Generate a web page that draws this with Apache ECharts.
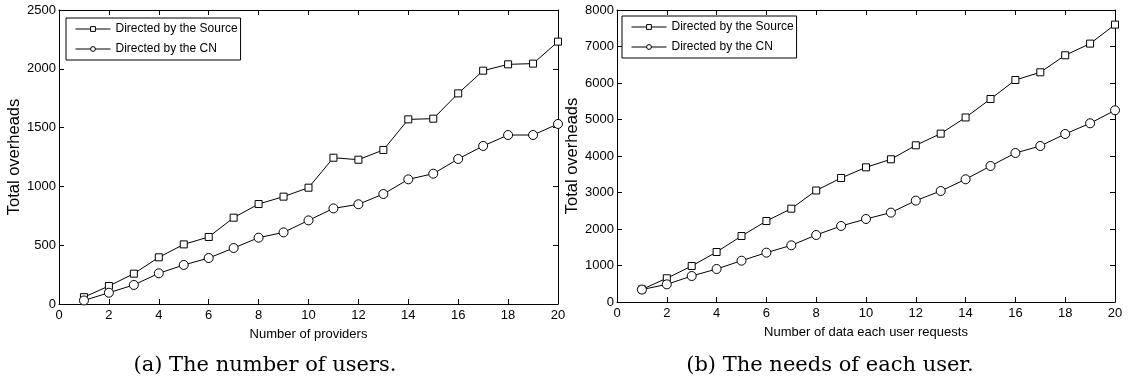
<!DOCTYPE html>
<html>
<head>
<meta charset="utf-8">
<script src="https://cdn.jsdelivr.net/npm/echarts@6/dist/echarts.min.js"></script>
<style>
html,body{margin:0;padding:0;background:#fff;}
#c{width:1130px;height:385px;}
</style>
</head>
<body>
<div id="c"></div>
<script>
// ---- data ----
const xValues = [1,2,3,4,5,6,7,8,9,10,11,12,13,14,15,16,17,18,19,20];
const seriesNames = ['Directed by the Source', 'Directed by the CN'];
// (a) number of providers
const usersSource = [58,153,258,397,507,570,734,850,913,989,1244,1227,1310,1570,1576,1791,1984,2038,2044,2231];
const usersCN     = [30,96,162,261,332,391,476,564,609,711,813,848,935,1060,1108,1233,1344,1437,1437,1531];
// (b) number of data each user requests
const needsSource = [345,650,986,1370,1808,2219,2557,3055,3398,3690,3910,4293,4613,5056,5562,6082,6293,6759,7079,7600];
const needsCN     = [340,484,712,904,1132,1352,1553,1836,2083,2274,2449,2778,3041,3362,3726,4082,4274,4603,4896,5252];
const xTicks = {min:0, max:20, interval:2};
const yTicksA = {min:0, max:2500, interval:500};
const yTicksB = {min:0, max:8000, interval:1000};
const xTitles = ['Number of providers', 'Number of data each user requests'];
const yTitle = 'Total overheads';
const captions = ['(a) The number of users.', '(b) The needs of each user.'];

const FONT = 'Liberation Sans';
const chart = echarts.init(document.getElementById('c'), null, {renderer:'canvas'});

function pairs(vals){ return xValues.map((x,i)=>[x, vals[i]]); }

const grids = [
  {left:59, top:10, width:499, height:294},
  {left:617, top:10, width:498, height:292}
];

function xAx(gi, pos, name){
  return {
    type:'value', gridIndex:gi, position:pos, min:xTicks.min, max:xTicks.max, interval:xTicks.interval,
    name: pos==='bottom' ? name : '', nameLocation:'middle', nameGap:24,
    nameTextStyle:{fontFamily:FONT, fontSize:13, color:'#000'},
    axisLine:{show:true, onZero:false, lineStyle:{color:'#000', width:1}},
    axisTick:{show:true, inside:true, length:5, lineStyle:{color:'#000'}},
    axisLabel:{show: pos==='bottom', fontFamily:FONT, fontSize:13, color:'#000', margin:5,
               formatter:v=>String(v)},
    splitLine:{show:false}
  };
}
function yAx(gi, pos, t){
  return {
    type:'value', gridIndex:gi, position:pos, min:t.min, max:t.max, interval:t.interval,
    name: pos==='left' ? yTitle : '', nameLocation:'middle', nameGap:34,
    nameTextStyle:{fontFamily:FONT, fontSize:16.5, color:'#000'},
    axisLine:{show:true, onZero:false, lineStyle:{color:'#000', width:1}},
    axisTick:{show:true, inside:true, length:5, lineStyle:{color:'#000'}},
    axisLabel:{show: pos==='left', fontFamily:FONT, fontSize:13, color:'#000', margin:3,
               formatter:v=>String(v)},
    splitLine:{show:false}
  };
}

function lineSeries(name, vals, xi, yi, symbol, size){
  return {
    name, type:'line', xAxisIndex:xi, yAxisIndex:yi, data:pairs(vals),
    symbol, symbolSize:size, showSymbol:true,
    lineStyle:{color:'#000', width:1},
    itemStyle:{color:'#fff', borderColor:'#000', borderWidth:1},
    animation:false, z:3
  };
}

function legend(left, top){
  return {
    left, top, orient:'vertical', data:seriesNames,
    itemWidth:35, itemHeight:6, itemGap:8,
    borderColor:'#000', borderWidth:1, padding:[5,3,5,9],
    backgroundColor:'#fff',
    lineStyle:{width:1, color:'#000'},
    itemStyle:{color:'#fff', borderColor:'#000', borderWidth:1},
    textStyle:{fontFamily:FONT, fontSize:12, color:'#000'},
    selectedMode:false
  };
}

chart.setOption({
  backgroundColor:'#fff',
  animation:false,
  grid: grids,
  xAxis:[xAx(0,'bottom',xTitles[0]), xAx(0,'top'), xAx(1,'bottom',xTitles[1]), xAx(1,'top')],
  yAxis:[yAx(0,'left',yTicksA), yAx(0,'right',yTicksA), yAx(1,'left',yTicksB), yAx(1,'right',yTicksB)],
  legend:[legend(66, 18), legend(622, 16)],
  series:[
    lineSeries(seriesNames[0], usersSource, 0, 0, 'rect', 7),
    lineSeries(seriesNames[1], usersCN, 0, 0, 'circle', 9),
    lineSeries(seriesNames[0], needsSource, 2, 2, 'rect', 7),
    lineSeries(seriesNames[1], needsCN, 2, 2, 'circle', 9)
  ],
  graphic:[
    {type:'text', x:265, y:366, style:{text:captions[0], font:'21px "DejaVu Serif"', fill:'#000', align:'center', verticalAlign:'middle'}},
    {type:'text', x:830, y:366, style:{text:captions[1], font:'21px "DejaVu Serif"', fill:'#000', align:'center', verticalAlign:'middle'}}
  ]
});
</script>
</body>
</html>
